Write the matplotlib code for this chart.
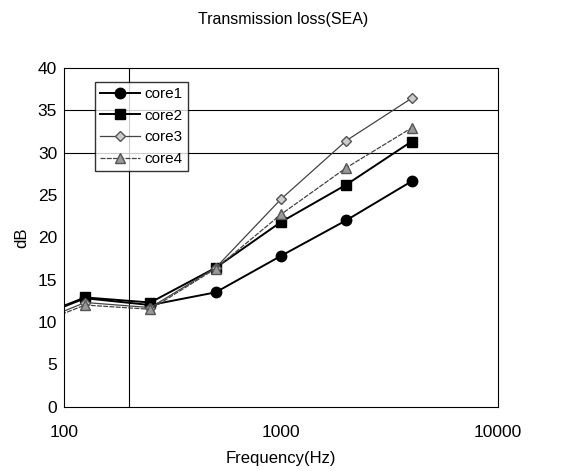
import matplotlib
matplotlib.use('Agg')
from matplotlib import pyplot as plt
from matplotlib.ticker import NullLocator, FixedLocator

plt.rcParams['font.family'] = ['Liberation Sans', 'DejaVu Sans']

# frequencies (Hz); the 63 Hz point falls outside the axes and is clipped
freq = [63, 125, 250, 500, 1000, 2000, 4000]
core1 = [9.8, 12.8, 12.0, 13.5, 17.8, 22.0, 26.6]
core2 = [9.9, 12.9, 12.3, 16.4, 21.8, 26.2, 31.3]
core3 = [9.2, 12.3, 11.7, 16.4, 24.5, 31.4, 36.4]
core4 = [9.0, 12.0, 11.5, 16.3, 22.7, 28.2, 32.9]

fig = plt.figure(figsize=(5.67, 4.71), dpi=100)
ax = fig.add_axes([0.113, 0.1365, 0.765, 0.7195])

ax.plot(freq, core1, color='black', lw=1.4, marker='o', ms=7.5, label='core1')
ax.plot(freq, core2, color='black', lw=1.4, marker='s', ms=7, label='core2')
ax.plot(freq, core3, color='#444444', lw=0.9, marker='D', ms=5.5,
        mfc='#cccccc', mec='#555555', label='core3')
ax.plot(freq, core4, color='#444444', lw=0.9, ls=(0, (4, 1)), marker='^', ms=7,
        mfc='#999999', mec='#555555', label='core4')

# the few grid lines that show in the picture
for y in [30, 35]:
    ax.axhline(y, color='black', lw=0.8, zorder=0)
ax.axvline(200, color='black', lw=0.8, zorder=0)

ax.set_xscale('log')
ax.set_xlim(100, 10000)
ax.set_ylim(0, 40)
ax.xaxis.set_major_locator(FixedLocator([100, 1000, 10000]))
ax.xaxis.set_minor_locator(NullLocator())
ax.set_xticklabels(['100', '1000', '10000'])
ax.set_yticks(range(0, 41, 5))
ax.tick_params(axis='both', length=0, labelsize=12.5)
ax.tick_params(axis='y', pad=5)
ax.tick_params(axis='x', pad=13)

ax.set_xlabel('Frequency(Hz)', fontsize=12, labelpad=8)
ax.set_ylabel('dB', fontsize=12, labelpad=6)
fig.suptitle('Transmission loss(SEA)', fontsize=11.5, y=0.975, x=0.5)

leg = ax.legend(loc='upper left', bbox_to_anchor=(0.071, 0.959), borderaxespad=0,
                frameon=True, fancybox=False, edgecolor='black', fontsize=11,
                handlelength=2.6, borderpad=0.35, labelspacing=0.5,
                handletextpad=0.3)
leg.get_frame().set_linewidth(1.0)

fig.savefig('out.png', dpi=100)
